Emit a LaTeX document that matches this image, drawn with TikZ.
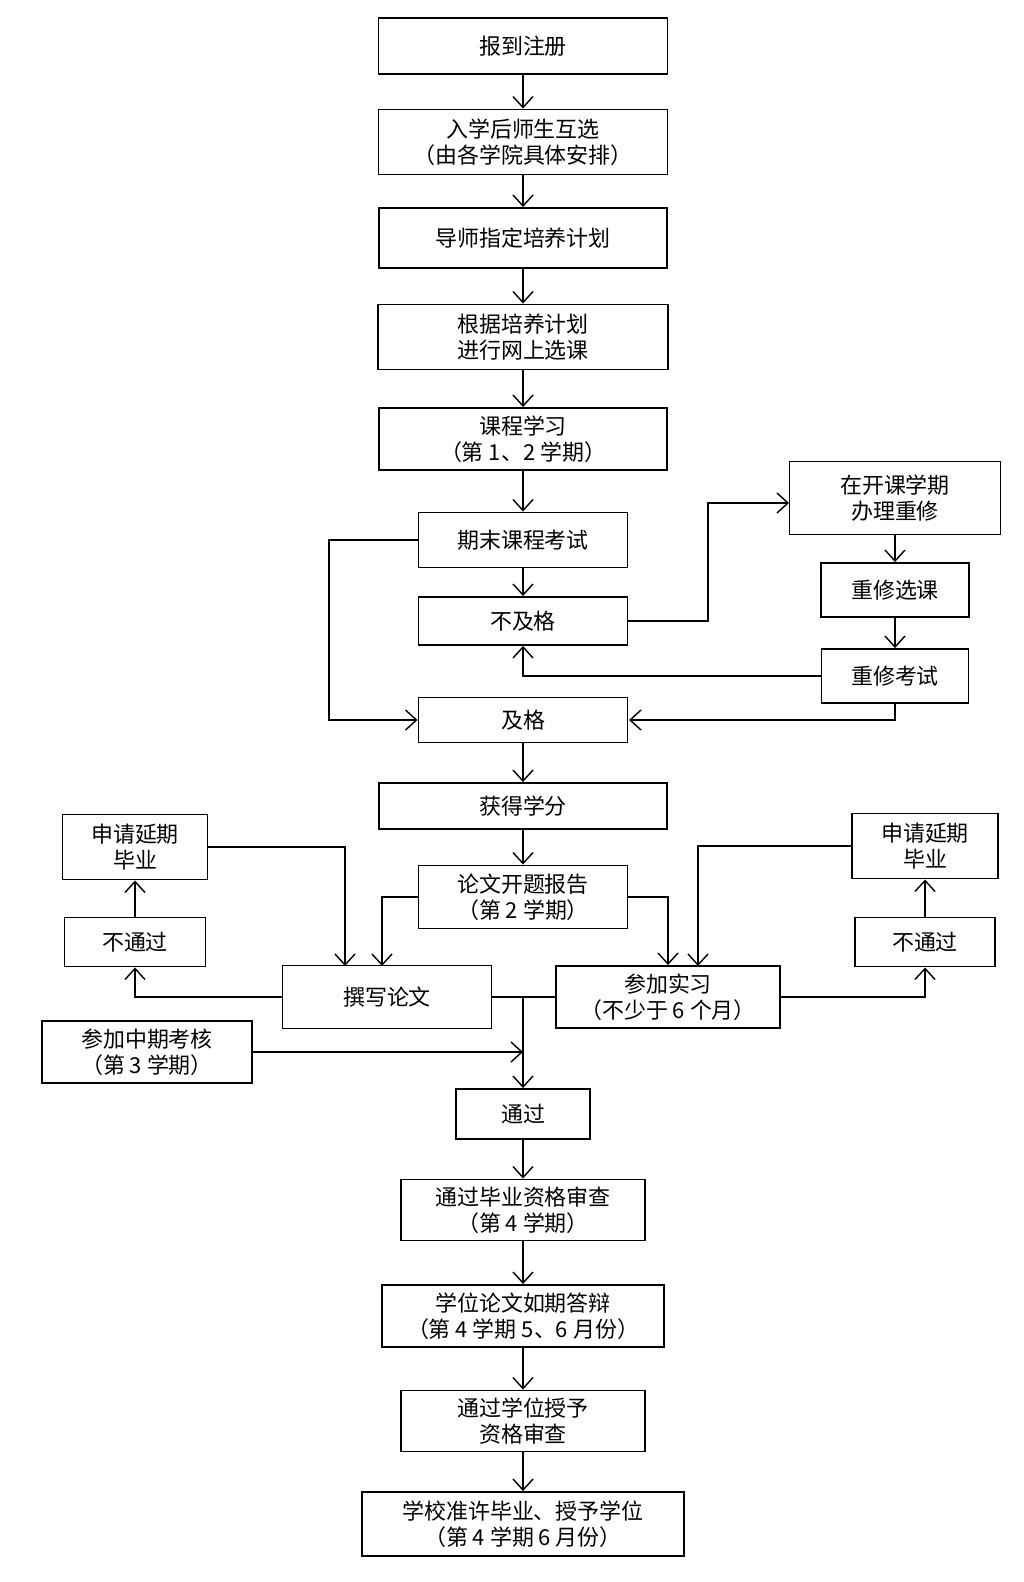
\documentclass[tikz,border=0pt]{standalone}
\usepackage{fontspec}
\setmainfont{Noto Sans CJK SC}
\usetikzlibrary{arrows.meta}
\usetikzlibrary{calc}

\begin{document}
\begin{tikzpicture}[x=0.02cm,y=-0.02cm,
	box/.style={draw,line width=1.1pt,align=center,inner sep=0pt,font=\fontsize{12.5}{15}\selectfont},
	arr/.style={-{Straight Barb[length=2.2mm,width=4mm]},line width=0.8pt},
	ln/.style={line width=0.8pt}]
	\useasboundingbox (0,0) rectangle (1024,1582);
	% main column
	\node(reg) at (523,46)[box,minimum width=5.78cm,minimum height=1.12cm]{报到注册};
	\node(sel) at (523,142)[box,minimum width=5.78cm,minimum height=1.3cm]{入学后师生互选\\（由各学院具体安排）};
	\node(plan) at (523,238)[box,minimum width=5.76cm,minimum height=1.2cm]{导师指定培养计划};
	\node(web) at (523,337)[box,minimum width=5.8cm,minimum height=1.3cm]{根据培养计划\\进行网上选课};
	\node(study) at (523,439)[box,minimum width=5.76cm,minimum height=1.24cm]{课程学习\\（第 1、2 学期）};
	\node(exam) at (523,540)[box,minimum width=4.18cm,minimum height=1.1cm]{期末课程考试};
	\node(fail) at (523,621)[box,minimum width=4.18cm,minimum height=0.96cm]{不及格};
	\node(pass) at (523,720)[box,minimum width=4.18cm,minimum height=0.9cm]{及格};
	% retake
	\node(retk) at (895,498)[box,minimum width=4.22cm,minimum height=1.46cm]{在开课学期\\办理重修};
	\node(rsel) at (895,590)[box,minimum width=2.96cm,minimum height=1.08cm]{重修选课};
	\node(rexam) at (895,676)[box,minimum width=2.94cm,minimum height=1.08cm]{重修考试};
	% thesis
	\node(credit) at (523,806)[box,minimum width=5.76cm,minimum height=0.92cm]{获得学分};
	\node(open) at (523,897)[box,minimum width=4.18cm,minimum height=1.26cm]{论文开题报告\\（第 2 学期）};
	\node(delayL) at (135,847)[box,minimum width=2.9cm,minimum height=1.3cm]{申请延期\\毕业};
	\node(nopL) at (135,942)[box,minimum width=2.82cm,minimum height=0.98cm]{不通过};
	\node(write) at (387,997)[box,minimum width=4.18cm,minimum height=1.26cm]{撰写论文};
	\node(intern) at (668,997)[box,minimum width=4.48cm,minimum height=1.24cm]{参加实习\\（不少于 6 个月）};
	\node(delayR) at (925,846)[box,minimum width=2.92cm,minimum height=1.3cm]{申请延期\\毕业};
	\node(nopR) at (925,942)[box,minimum width=2.8cm,minimum height=0.98cm]{不通过};
	\node(mid) at (147,1052)[box,minimum width=4.2cm,minimum height=1.24cm]{参加中期考核\\（第 3 学期）};
	\node(ok) at (523,1114)[box,minimum width=2.68cm,minimum height=1cm]{通过};
	\node(grad) at (523,1210)[box,minimum width=4.88cm,minimum height=1.22cm]{通过毕业资格审查\\（第 4 学期）};
	\node(def) at (523,1316)[box,minimum width=5.64cm,minimum height=1.24cm]{学位论文如期答辩\\（第 4 学期 5、6 月份）};
	\node(deg) at (523,1421)[box,minimum width=4.88cm,minimum height=1.22cm]{通过学位授予\\资格审查};
	\node(fin) at (523,1524)[box,minimum width=6.44cm,minimum height=1.28cm]{学校准许毕业、授予学位\\（第 4 学期 6 月份）};
	\coordinate(join) at (523,997);
	\coordinate(retkin) at (789,503);
	\coordinate(passin) at (629,720);

	\draw[arr](reg)--(sel);
	\draw[arr](sel)--(plan);
	\draw[arr](plan)--(web);
	\draw[arr](web)--(study);
	\draw[arr](study)--(exam);
	\draw[arr](exam)--(fail);
	\draw[arr](exam.west)--(329,540)--(329,720)--(pass.west);
	\draw[arr](fail.east)--(708,621)--(708,503)--(retkin);
	\draw[arr](retk)--(rsel);
	\draw[arr](rsel)--(rexam);
	\draw[arr](rexam.west)--(fail.south|-rexam.west)--(fail.south);
	\draw[arr](rexam.south)--(895,720)--(passin);
	\draw[arr](pass)--(credit);
	\draw[arr](credit)--(open);
	\draw[arr](open.west)--(382,897)--(382,966);
	\draw[arr](open.east)--(668,897)--(intern.north);
	\draw[arr](delayL.east)--(345,847)--(345,966);
	\draw[arr](delayR.west)--(698,846)--(698,966);
	\draw[arr](write.west)--(nopL.south|-write.west)--(nopL.south);
	\draw[arr](nopL)--(delayL);
	\draw[arr](intern.east)--(nopR.south|-intern.east)--(nopR.south);
	\draw[arr](nopR)--(delayR);
	\draw[ln](write.east)--(intern.west);
	\draw[arr](join)--(ok);
	\draw[arr](mid.east)--(join|-mid.east);
	\draw[arr](ok)--(grad);
	\draw[arr](grad)--(def);
	\draw[arr](def)--(deg);
	\draw[arr](deg)--(fin);
\end{tikzpicture}
\end{document}
